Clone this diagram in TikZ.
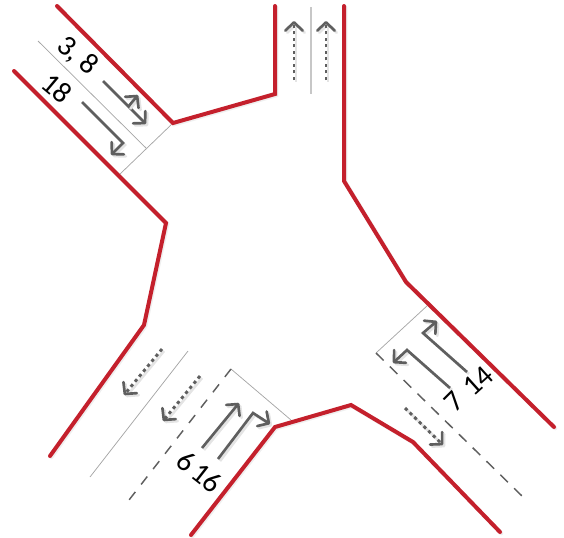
\documentclass[tikz,border=0pt]{standalone}
\usepackage{fontspec}
\setmainfont{Carlito}
\usetikzlibrary{arrows.meta}
\definecolor{roadred}{RGB}{196,32,44}
\definecolor{arrowgray}{RGB}{95,95,95}
\definecolor{shadowgray}{RGB}{228,228,228}
\tikzset{
  x=0.75pt,y=-0.75pt,
  road/.style={draw=roadred,line width=3pt,line cap=round,line join=miter},
  roadshadow/.style={draw=shadowgray!60,line width=3pt,line cap=round,shift={(1.3,1.3)}},
  thin gray/.style={draw=black!35,line width=0.55pt},
  lane dash/.style={draw=arrowgray,line width=1.1pt},
  barb/.tip={Straight Barb[length=6.2pt,width=13pt,line width=2pt,round]},
  moveline/.style={draw=arrowgray,line width=2pt,line join=miter,-{barb}},
  dotline/.style={draw=arrowgray,line width=2.2pt,dash pattern=on 2.4pt off 2.5pt,-{barb}},
  moveshadow/.style={draw=shadowgray,line width=2pt,shift={(2,2)},-{barb}},
  label/.style={font=\fontsize{22pt}{22pt}\selectfont,inner sep=0pt,text=black},
}
\newcommand{\movepath}[2][moveline]{%
  \draw[moveshadow] #2;
  \draw[#1] #2;}
\begin{document}
\begin{tikzpicture}
\useasboundingbox (0,0) rectangle (564,537);
% thin lane and stop lines
\draw[thin gray] (38,41) -- (146,148);
\draw[thin gray] (173,123) -- (119,175);
\draw[thin gray,line width=0.8pt,draw=black!22] (311,7) -- (311,94);
\draw[thin gray] (188,351) -- (90,477);
\draw[thin gray] (231,369) -- (291,420);
\draw[thin gray] (376,353) -- (428,305);
\draw[lane dash,dash pattern=on 7.5pt off 7.1pt] (231,369) -- (129,500);
\draw[lane dash,dash pattern=on 8pt off 6.5pt] (376,353) -- (522,496);
% roads
\foreach \st in {roadshadow,road}{
  \draw[\st] (57,6) -- (173,123) -- (275,94) -- (275,6);
  \draw[\st] (344,6) -- (344,181) -- (406,282) -- (554,427);
  \draw[\st] (14,71) -- (166,223) -- (144,325) -- (50,456);
  \draw[\st] (191,535) -- (275,427) -- (351,405) -- (413,442) -- (500,532);
}
% solid movements
\movepath{(103,81) -- (146,124)}
\movepath{(128,107) -- (138,95)}
\movepath{(82,102) -- (123,143) -- (111,155)}
\movepath{(202,448) -- (239,403)}
\movepath{(218,459) -- (253,413) -- (270,424)}
\movepath{(467,372) -- (423,333) -- (437,321)}
\movepath{(450,388) -- (407,350) -- (393,363)}
% dotted movements
\movepath[dotline]{(294,80) -- (294,21)}
\movepath[dotline]{(326,80) -- (326,21)}
\movepath[dotline]{(162,349) -- (124,395)}
\movepath[dotline]{(200,376) -- (163,421)}
\movepath[dotline]{(405,408) -- (443,445)}
% labels
\node[label,rotate=-40] (l38) at (77,56) {3, 8};
\node[label,rotate=-40] (l18) at (57,88) {18};
\node[label,rotate=-38] (l6) at (186,461) {6};
\node[label,rotate=-38] (l16) at (207,478) {16};
\node[label,rotate=45] (l7) at (454,402) {7};
\node[label,rotate=42] (l14) at (478,381) {14};
\end{tikzpicture}
\end{document}
